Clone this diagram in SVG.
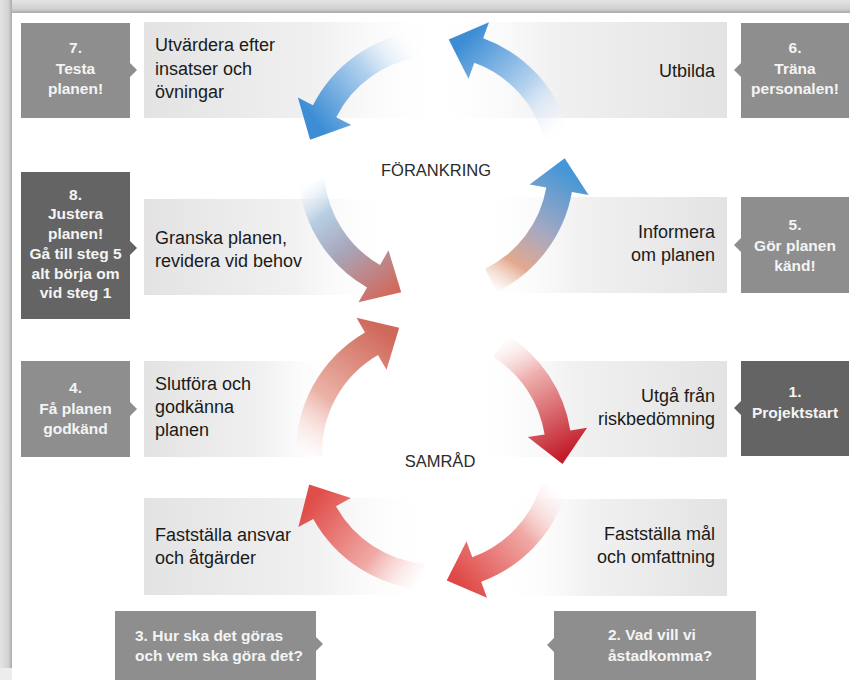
<svg xmlns="http://www.w3.org/2000/svg" width="850" height="680" viewBox="0 0 850 680">
<style>
.gb{fill:#8e8e8e}
.db{fill:#646464}
.wt{font-family:"Liberation Sans",Arial,sans-serif;font-weight:bold;font-size:15.5px;fill:#f4f4f4;text-anchor:middle}
.wl{font-family:"Liberation Sans",Arial,sans-serif;font-weight:bold;font-size:15.5px;fill:#f4f4f4}
.bt{font-family:"Liberation Sans",Arial,sans-serif;font-size:18px;fill:#1a1a1a}
.br{font-family:"Liberation Sans",Arial,sans-serif;font-size:18px;fill:#1a1a1a;text-anchor:end}
.ct{font-family:"Liberation Sans",Arial,sans-serif;font-size:16.5px;fill:#2a2a2a;text-anchor:middle}
</style>
<defs>
<linearGradient id="lbg" x1="0" y1="0" x2="1" y2="0">
<stop offset="0" stop-color="#e3e3e3"/><stop offset="0.6" stop-color="#f1f1f1"/><stop offset="1" stop-color="#ffffff" stop-opacity="0"/>
</linearGradient>
<linearGradient id="rbg" x1="1" y1="0" x2="0" y2="0">
<stop offset="0" stop-color="#e3e3e3"/><stop offset="0.6" stop-color="#f1f1f1"/><stop offset="1" stop-color="#ffffff" stop-opacity="0"/>
</linearGradient>
<linearGradient id="topband" x1="0" y1="0" x2="0" y2="1">
<stop offset="0" stop-color="#e4e4e4"/><stop offset="0.7" stop-color="#cfcfcf"/><stop offset="1" stop-color="#a9a9a9"/>
</linearGradient>
<linearGradient id="leftband" x1="0" y1="0" x2="1" y2="0">
<stop offset="0" stop-color="#e4e4e4"/><stop offset="0.7" stop-color="#d2d2d2"/><stop offset="1" stop-color="#aaaaaa"/>
</linearGradient>
<linearGradient id="gA" gradientUnits="userSpaceOnUse" x1="560" y1="140" x2="462" y2="42">
<stop offset="0" stop-color="#ffffff" stop-opacity="0"/><stop offset="0.45" stop-color="#b4d2ee"/><stop offset="1" stop-color="#3c8dd4"/>
</linearGradient>
<linearGradient id="gB" gradientUnits="userSpaceOnUse" x1="420" y1="44" x2="318" y2="125">
<stop offset="0" stop-color="#ffffff" stop-opacity="0"/><stop offset="0.45" stop-color="#b4d2ee"/><stop offset="1" stop-color="#3c8dd4"/>
</linearGradient>
<linearGradient id="gC" gradientUnits="userSpaceOnUse" x1="310" y1="180" x2="395" y2="292">
<stop offset="0" stop-color="#e6eff7" stop-opacity="0"/><stop offset="0.25" stop-color="#b8cfe3"/><stop offset="0.55" stop-color="#a7a6ba"/><stop offset="1" stop-color="#d3685a"/>
</linearGradient>
<linearGradient id="gD" gradientUnits="userSpaceOnUse" x1="488" y1="288" x2="562" y2="168">
<stop offset="0" stop-color="#f3cfbc" stop-opacity="0"/><stop offset="0.25" stop-color="#e3a98f"/><stop offset="0.55" stop-color="#a4a8c2"/><stop offset="1" stop-color="#4597d7"/>
</linearGradient>
<linearGradient id="gE" gradientUnits="userSpaceOnUse" x1="498" y1="340" x2="560" y2="458">
<stop offset="0" stop-color="#fbe2e2" stop-opacity="0"/><stop offset="0.35" stop-color="#eeb0ae"/><stop offset="1" stop-color="#c21d2a"/>
</linearGradient>
<linearGradient id="gF" gradientUnits="userSpaceOnUse" x1="556" y1="488" x2="455" y2="578">
<stop offset="0" stop-color="#fbe2e2" stop-opacity="0"/><stop offset="0.4" stop-color="#f0aaa6"/><stop offset="1" stop-color="#df4846"/>
</linearGradient>
<linearGradient id="gG" gradientUnits="userSpaceOnUse" x1="424" y1="578" x2="315" y2="498">
<stop offset="0" stop-color="#fbe2e2" stop-opacity="0"/><stop offset="0.4" stop-color="#f0aaa6"/><stop offset="1" stop-color="#e04e4a"/>
</linearGradient>
<linearGradient id="gH" gradientUnits="userSpaceOnUse" x1="306" y1="456" x2="390" y2="336">
<stop offset="0" stop-color="#fbe3dc" stop-opacity="0"/><stop offset="0.4" stop-color="#ecb3a8"/><stop offset="1" stop-color="#cf695b"/>
</linearGradient>
</defs>

<rect width="850" height="680" fill="#ffffff"/>
<rect x="0" y="0" width="850" height="13" fill="url(#topband)"/>
<rect x="0" y="0" width="12" height="668" fill="url(#leftband)"/>
<rect x="0" y="668" width="12" height="12" fill="#ededed"/>

<g id="text-boxes">
<rect x="144" y="22" width="300" height="96" fill="url(#lbg)"/>
<rect x="144" y="199" width="250" height="96" fill="url(#lbg)"/>
<rect x="144" y="361" width="200" height="96" fill="url(#lbg)"/>
<rect x="144" y="498" width="290" height="97" fill="url(#lbg)"/>
<rect x="430" y="22" width="297" height="96" fill="url(#rbg)"/>
<rect x="480" y="197" width="247" height="96" fill="url(#rbg)"/>
<rect x="470" y="361" width="257" height="96" fill="url(#rbg)"/>
<rect x="500" y="499" width="227" height="97" fill="url(#rbg)"/>
</g>

<g id="connectors">
<path fill="url(#gA)" d="M569.3,132.3 A138,138 0 0 0 483.2,38.3 L489.0,22.3 L448.7,39.6 L468.5,78.7 L474.3,62.8 A112,112 0 0 1 544.2,139.0 Z"/>
<path fill="url(#gB)" d="M416.8,31.3 A138,138 0 0 0 313.0,105.3 L297.9,97.6 L310.1,139.8 L351.4,124.9 L336.2,117.2 A112,112 0 0 1 420.4,57.1 Z"/>
<path fill="url(#gC)" d="M298.8,182.4 A138,138 0 0 0 367,287.5 L358.5,302.2 L401.2,292.3 L388.5,250.3 L380,265.0 A112,112 0 0 1 324.6,179.7 Z"/>
<path fill="url(#gD)" d="M496.5,292.0 A138,138 0 0 0 571.9,192.0 L588.6,194.9 L564.7,158.2 L529.6,184.5 L546.3,187.4 A112,112 0 0 1 485.1,268.7 Z"/>
<path fill="url(#gE)" d="M507.1,335.0 A138,138 0 0 1 570.3,430.4 L587.1,427.8 L562.5,464.1 L527.8,437.1 L544.6,434.5 A112,112 0 0 0 493.3,357.0 Z"/>
<path fill="url(#gF)" d="M566.0,492.4 A138,138 0 0 1 481.2,581.7 L487.0,597.7 L446.7,580.4 L466.5,541.3 L472.3,557.2 A112,112 0 0 0 541.1,484.7 Z"/>
<path fill="url(#gG)" d="M422.0,589.5 A138,138 0 0 1 313.3,518.9 L298.4,527.1 L309.2,484.6 L350.9,498.1 L336.0,506.3 A112,112 0 0 0 424.2,563.6 Z"/>
<path fill="url(#gH)" d="M296.1,456.8 A138,138 0 0 1 365,332.5 L356.5,317.8 L399.2,327.75 L386.5,369.7 L378,355.0 A112,112 0 0 0 322.1,455.9 Z"/>
</g>

<g id="loop-labels">
<text class="ct" x="436" y="176">FÖRANKRING</text>
<text class="ct" x="440" y="467">SAMRÅD</text>
</g>

<g id="step-utvardera">
<text class="bt" x="155" y="51">Utvärdera efter</text>
<text class="bt" x="155" y="75">insatser och</text>
<text class="bt" x="155" y="98">övningar</text>
</g>
<g id="step-granska">
<text class="bt" x="155" y="244">Granska planen,</text>
<text class="bt" x="155" y="267">revidera vid behov</text>
</g>
<g id="step-slutfora">
<text class="bt" x="155" y="390">Slutföra och</text>
<text class="bt" x="155" y="413">godkänna</text>
<text class="bt" x="155" y="436">planen</text>
</g>
<g id="step-ansvar">
<text class="bt" x="155" y="541">Fastställa ansvar</text>
<text class="bt" x="155" y="564">och åtgärder</text>
</g>
<g id="step-utbilda">
<text class="br" x="715" y="77">Utbilda</text>
</g>
<g id="step-informera">
<text class="br" x="715" y="238">Informera</text>
<text class="br" x="715" y="261">om planen</text>
</g>
<g id="step-utga">
<text class="br" x="715" y="402">Utgå från</text>
<text class="br" x="715" y="425">riskbedömning</text>
</g>
<g id="step-mal">
<text class="br" x="715" y="540">Fastställa mål</text>
<text class="br" x="715" y="563">och omfattning</text>
</g>

<g id="box7">
<rect class="gb" x="21" y="23" width="109" height="95"/>
<polygon class="gb" points="130,63 137,70 130,77"/>
<text class="wt" x="75.5" y="53">7.</text>
<text class="wt" x="75.5" y="74">Testa</text>
<text class="wt" x="75.5" y="94">planen!</text>
</g>
<g id="box8">
<rect class="db" x="21" y="172" width="109" height="147"/>
<polygon class="db" points="130,241 137,248 130,255"/>
<text class="wt" x="75.5" y="200">8.</text>
<text class="wt" x="75.5" y="219">Justera</text>
<text class="wt" x="75.5" y="239">planen!</text>
<text class="wt" x="75.5" y="259">Gå till steg 5</text>
<text class="wt" x="75.5" y="279">alt börja om</text>
<text class="wt" x="75.5" y="298">vid steg 1</text>
</g>
<g id="box4">
<rect class="gb" x="21" y="361" width="109" height="96"/>
<polygon class="gb" points="130,402 137,409 130,416"/>
<text class="wt" x="75.5" y="393">4.</text>
<text class="wt" x="75.5" y="414">Få planen</text>
<text class="wt" x="75.5" y="434">godkänd</text>
</g>
<g id="box3">
<rect class="gb" x="115" y="611" width="201" height="69"/>
<polygon class="gb" points="316,637 323,644 316,651"/>
<text class="wl" x="135" y="641">3. Hur ska det göras</text>
<text class="wl" x="135" y="661">och vem ska göra det?</text>
</g>
<g id="box6">
<rect class="gb" x="741" y="23" width="108" height="95"/>
<polygon class="gb" points="741,63 734,70 741,77"/>
<text class="wt" x="795" y="53">6.</text>
<text class="wt" x="795" y="74">Träna</text>
<text class="wt" x="795" y="94">personalen!</text>
</g>
<g id="box5">
<rect class="gb" x="741" y="197" width="108" height="96"/>
<polygon class="gb" points="741,238 734,245 741,252"/>
<text class="wt" x="795" y="230">5.</text>
<text class="wt" x="795" y="251">Gör planen</text>
<text class="wt" x="795" y="271">känd!</text>
</g>
<g id="box1">
<rect class="db" x="741" y="361" width="108" height="95"/>
<polygon class="db" points="741,401 734,408 741,415"/>
<text class="wt" x="795" y="397">1.</text>
<text class="wt" x="795" y="418">Projektstart</text>
</g>
<g id="box2">
<rect class="gb" x="554" y="611" width="202" height="69"/>
<polygon class="gb" points="554,638 547,645 554,652"/>
<text class="wl" x="608" y="640">2. Vad vill vi</text>
<text class="wl" x="608" y="661">åstadkomma?</text>
</g>
</svg>
